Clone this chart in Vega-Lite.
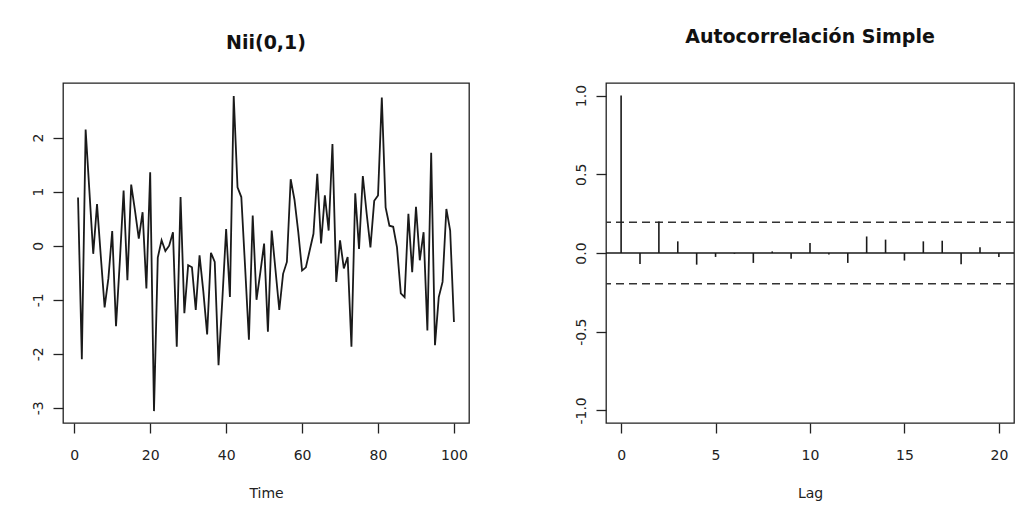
{
  "$schema": "https://vega.github.io/schema/vega-lite/v6.json",
  "background": "white",
  "padding": {"left": 30, "top": 27, "right": 8, "bottom": 5},
  "bounds": "flush",
  "spacing": 137,
  "datasets": {
    "series": [
      {"t": 1, "v": 0.89}, {"t": 2, "v": -2.10}, {"t": 3, "v": 2.15}, {"t": 4, "v": 1.0}, {"t": 5, "v": -0.15},
      {"t": 6, "v": 0.77}, {"t": 7, "v": -0.2}, {"t": 8, "v": -1.14}, {"t": 9, "v": -0.6}, {"t": 10, "v": 0.27},
      {"t": 11, "v": -1.49}, {"t": 12, "v": -0.3}, {"t": 13, "v": 1.02}, {"t": 14, "v": -0.64}, {"t": 15, "v": 1.13},
      {"t": 16, "v": 0.65}, {"t": 17, "v": 0.13}, {"t": 18, "v": 0.62}, {"t": 19, "v": -0.79}, {"t": 20, "v": 1.36},
      {"t": 21, "v": -3.06}, {"t": 22, "v": -0.22}, {"t": 23, "v": 0.10}, {"t": 24, "v": -0.10}, {"t": 25, "v": 0.0},
      {"t": 26, "v": 0.25}, {"t": 27, "v": -1.87}, {"t": 28, "v": 0.90}, {"t": 29, "v": -1.25}, {"t": 30, "v": -0.36},
      {"t": 31, "v": -0.40}, {"t": 32, "v": -1.19}, {"t": 33, "v": -0.18}, {"t": 34, "v": -0.85}, {"t": 35, "v": -1.64},
      {"t": 36, "v": -0.13}, {"t": 37, "v": -0.3}, {"t": 38, "v": -2.21}, {"t": 39, "v": -1.0}, {"t": 40, "v": 0.31},
      {"t": 41, "v": -0.95}, {"t": 42, "v": 2.77}, {"t": 43, "v": 1.08}, {"t": 44, "v": 0.90}, {"t": 45, "v": -0.4},
      {"t": 46, "v": -1.74}, {"t": 47, "v": 0.56}, {"t": 48, "v": -1.0}, {"t": 49, "v": -0.5}, {"t": 50, "v": 0.04},
      {"t": 51, "v": -1.59}, {"t": 52, "v": 0.28}, {"t": 53, "v": -0.45}, {"t": 54, "v": -1.19}, {"t": 55, "v": -0.52},
      {"t": 56, "v": -0.30}, {"t": 57, "v": 1.23}, {"t": 58, "v": 0.85}, {"t": 59, "v": 0.25}, {"t": 60, "v": -0.46},
      {"t": 61, "v": -0.4}, {"t": 62, "v": -0.09}, {"t": 63, "v": 0.22}, {"t": 64, "v": 1.33}, {"t": 65, "v": 0.04},
      {"t": 66, "v": 0.93}, {"t": 67, "v": 0.28}, {"t": 68, "v": 1.88}, {"t": 69, "v": -0.67}, {"t": 70, "v": 0.10},
      {"t": 71, "v": -0.42}, {"t": 72, "v": -0.21}, {"t": 73, "v": -1.87}, {"t": 74, "v": 0.97}, {"t": 75, "v": -0.06},
      {"t": 76, "v": 1.29}, {"t": 77, "v": 0.6}, {"t": 78, "v": -0.03}, {"t": 79, "v": 0.83}, {"t": 80, "v": 0.93},
      {"t": 81, "v": 2.74}, {"t": 82, "v": 0.71}, {"t": 83, "v": 0.37}, {"t": 84, "v": 0.35}, {"t": 85, "v": -0.03},
      {"t": 86, "v": -0.88}, {"t": 87, "v": -0.95}, {"t": 88, "v": 0.59}, {"t": 89, "v": -0.49}, {"t": 90, "v": 0.72},
      {"t": 91, "v": -0.27}, {"t": 92, "v": 0.25}, {"t": 93, "v": -1.57}, {"t": 94, "v": 1.72}, {"t": 95, "v": -1.84},
      {"t": 96, "v": -0.95}, {"t": 97, "v": -0.67}, {"t": 98, "v": 0.68}, {"t": 99, "v": 0.28}, {"t": 100, "v": -1.41}
    ],
    "acf": [
      {"lag": 0, "acf": 1.0}, {"lag": 1, "acf": -0.07}, {"lag": 2, "acf": 0.2}, {"lag": 3, "acf": 0.074},
      {"lag": 4, "acf": -0.074}, {"lag": 5, "acf": -0.025}, {"lag": 6, "acf": -0.005}, {"lag": 7, "acf": -0.063},
      {"lag": 8, "acf": 0.01}, {"lag": 9, "acf": -0.036}, {"lag": 10, "acf": 0.063}, {"lag": 11, "acf": -0.01},
      {"lag": 12, "acf": -0.063}, {"lag": 13, "acf": 0.105}, {"lag": 14, "acf": 0.085}, {"lag": 15, "acf": -0.048},
      {"lag": 16, "acf": 0.074}, {"lag": 17, "acf": 0.078}, {"lag": 18, "acf": -0.072}, {"lag": 19, "acf": 0.036},
      {"lag": 20, "acf": -0.025}
    ],
    "ci": [{"ci": 0.196}, {"ci": -0.196}],
    "zero": [{"z": 0}]
  },
  "config": {
    "view": {"stroke": "#222", "strokeWidth": 1.3},
    "axis": {
      "grid": false, "domain": false, "tickColor": "#222", "tickSize": 10, "tickWidth": 1.3,
      "labelFont": "DejaVu Sans", "labelFontSize": 14, "labelColor": "#222",
      "labelExpr": "replace(datum.label, '\u2212', '-')",
      "titleFont": "DejaVu Sans", "titleFontSize": 14, "titleFontWeight": "normal", "titleColor": "#222"
    },
    "axisX": {"labelPadding": 15, "titlePadding": 24, "labelAngle": 0},
    "axisY": {"labelAngle": -90, "labelAlign": "center", "labelBaseline": "bottom", "labelPadding": 8},
    "title": {"font": "DejaVu Sans", "fontSize": 19, "fontWeight": "bold", "color": "#111", "anchor": "middle", "frame": "group"}
  },
  "hconcat": [
    {
      "width": 406,
      "height": 340,
      "title": {"text": "Nii(0,1)", "offset": 30},
      "data": {"name": "series"},
      "mark": {"type": "line", "color": "#1a1a1a", "strokeWidth": 1.8},
      "encoding": {
        "x": {"field": "t", "type": "quantitative", "scale": {"domain": [-2.96, 103.96], "nice": false, "zero": false}, "axis": {"values": [0, 20, 40, 60, 80, 100], "title": "Time"}},
        "y": {"field": "v", "type": "quantitative", "scale": {"domain": [-3.28, 3.01], "nice": false, "zero": false}, "axis": {"values": [-3, -2, -1, 0, 1, 2], "title": null}}
      }
    },
    {
      "width": 408,
      "height": 340,
      "title": {"text": "Autocorrelación Simple", "offset": 36},
      "layer": [
        {
          "data": {"name": "zero"},
          "mark": {"type": "rule", "color": "#1a1a1a", "strokeWidth": 1.4},
          "encoding": {"y": {"field": "z", "type": "quantitative"}}
        },
        {
          "data": {"name": "ci"},
          "mark": {"type": "rule", "color": "#333", "strokeWidth": 1.5, "strokeDash": [8, 5]},
          "encoding": {"y": {"field": "ci", "type": "quantitative"}}
        },
        {
          "data": {"name": "acf"},
          "mark": {"type": "rule", "color": "#1a1a1a", "strokeWidth": 1.6},
          "encoding": {
            "x": {"field": "lag", "type": "quantitative", "scale": {"domain": [-0.8, 20.8], "nice": false, "zero": false}, "axis": {"values": [0, 5, 10, 15, 20], "title": "Lag"}},
            "y": {"field": "acf", "type": "quantitative", "scale": {"domain": [-1.08, 1.08], "nice": false, "zero": false}, "axis": {"values": [-1, -0.5, 0, 0.5, 1], "format": ".1f", "title": null}},
            "y2": {"datum": 0}
          }
        }
      ]
    }
  ]
}
